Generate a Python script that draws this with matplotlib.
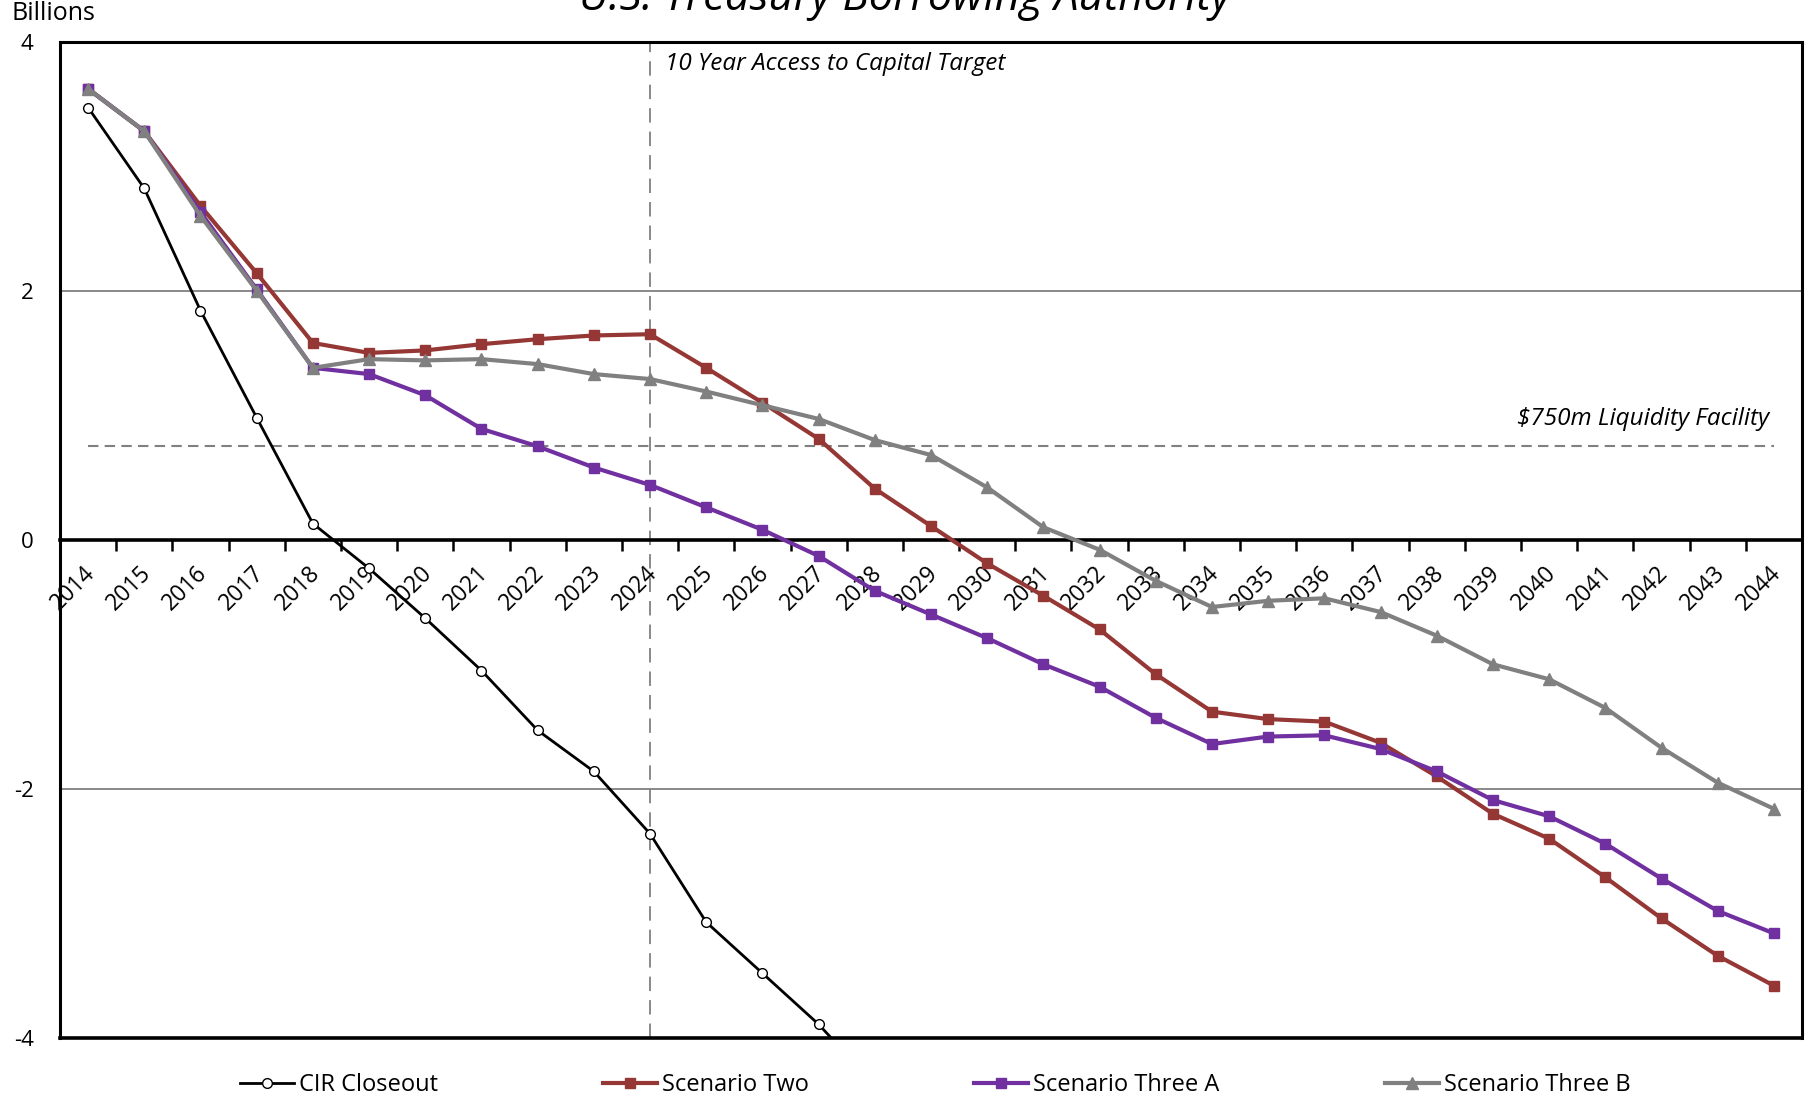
import matplotlib.pyplot as plt
from matplotlib.transforms import ScaledTranslation

plt.rcParams['font.family'] = ['Open Sans', 'DejaVu Sans']

years = list(range(2014, 2045))
y_ticks = [-4, -2, 0, 2, 4]
y_tick_labels = ['-4', '-2', '0', '2', '4']

# CIR Closeout runs off the bottom of the chart after 2027
cir_years = list(range(2014, 2029))
cir_closeout = [3.47, 2.82, 1.84, 0.98, 0.13, -0.23, -0.63, -1.05, -1.53, -1.86,
                -2.36, -3.07, -3.48, -3.89, -4.38]

scenario_two = [3.62, 3.28, 2.68, 2.14, 1.58, 1.50, 1.52, 1.57, 1.61, 1.64,
                1.65, 1.38, 1.10, 0.81, 0.41, 0.11, -0.19, -0.45, -0.72, -1.08,
                -1.38, -1.44, -1.46, -1.63, -1.90, -2.20, -2.40, -2.71, -3.04, -3.34,
                -3.58]

scenario_three_a = [3.62, 3.28, 2.63, 2.01, 1.38, 1.33, 1.16, 0.89, 0.75, 0.58,
                    0.44, 0.26, 0.08, -0.13, -0.41, -0.60, -0.79, -1.00, -1.18, -1.43,
                    -1.64, -1.58, -1.57, -1.68, -1.86, -2.09, -2.22, -2.44, -2.72, -2.98,
                    -3.16]

scenario_three_b = [3.62, 3.28, 2.60, 2.00, 1.38, 1.45, 1.44, 1.45, 1.41, 1.33,
                    1.29, 1.19, 1.08, 0.97, 0.80, 0.68, 0.42, 0.10, -0.08, -0.33,
                    -0.54, -0.49, -0.47, -0.58, -0.77, -1.00, -1.12, -1.35, -1.67, -1.95,
                    -2.16]

target_year = 2024
liquidity_facility = 0.75

fig = plt.figure(figsize=(18.1, 11), dpi=100)
ax = fig.add_axes([60 / 1810, 1 - 1038 / 1100, (1802 - 60) / 1810, (1038 - 41.5) / 1100])

# gridlines and reference lines
for g in (2, -2):
    ax.axhline(g, color='#808080', lw=1.3, zorder=1)
ax.axvline(target_year, color='#808080', lw=1.3, ls=(0, (8, 5)), zorder=1)
ax.hlines(liquidity_facility, years[0], years[-1], color='#808080', lw=1.5,
          ls=(0, (5, 3)), zorder=1)

ax.plot(cir_years, cir_closeout, color='black', lw=2.0, marker='o', ms=7,
        mfc='white', mec='black', mew=1.0, label='CIR Closeout', zorder=3)
ax.plot(years, scenario_two, color='#953735', lw=3.0, marker='s', ms=6.5,
        label='Scenario Two', zorder=3)
ax.plot(years, scenario_three_a, color='#7030A0', lw=3.0, marker='s', ms=6.5,
        label='Scenario Three A', zorder=3)
ax.plot(years, scenario_three_b, color='#808080', lw=3.0, marker='^', ms=8,
        label='Scenario Three B', zorder=3)

ax.set_xlim(years[0] - 0.5, years[-1] + 0.5)
ax.set_ylim(-4, 4)

# x axis crosses at zero, box closed at the bottom
ax.spines['bottom'].set_position(('data', 0))
ax.spines['bottom'].set_linewidth(2.6)
for s in ('top', 'left', 'right'):
    ax.spines[s].set_linewidth(2.2)
ax.axhline(-4, color='black', lw=2.6, clip_on=False, zorder=4)

ax.set_yticks(y_ticks)
ax.set_yticklabels(y_tick_labels)
ax.tick_params(axis='y', length=0, pad=19, labelsize=16)

ax.set_xticks(years)
ax.set_xticklabels([str(y) for y in years], rotation=45, ha='right', va='top',
                   rotation_mode='anchor')
ax.set_xticks([y + 0.5 for y in years[:-1]], minor=True)
ax.tick_params(axis='x', which='major', length=0, pad=15.5, labelsize=16.5)
ax.tick_params(axis='x', which='minor', length=8, width=1.8, direction='out')
shift = ScaledTranslation(-5 / 100, 0, fig.dpi_scale_trans)
for lab in ax.get_xticklabels():
    lab.set_transform(lab.get_transform() + shift)

ax.text(2024.27, 3.82, '10 Year Access to Capital Target', fontsize=17.5,
        style='italic', va='center', ha='left')
ax.text(2043.92, 0.97, '$750m Liquidity Facility', fontsize=17.5,
        style='italic', va='center', ha='right')

fig.text(0.5, 1 - 10 / 1100, 'U.S. Treasury Borrowing Authority', fontsize=31.5,
         style='italic', ha='center', va='baseline')
fig.text(11 / 1810, 1 - 14 / 1100, 'Billions', fontsize=18, va='center', ha='left')

fig.legend(loc='center', bbox_to_anchor=(0.5166, 1 - 1085 / 1100), ncol=4,
           frameon=False, fontsize=17, handlelength=2.3, handletextpad=0.2,
           columnspacing=7.0)

fig.savefig('out.png', dpi=100)
